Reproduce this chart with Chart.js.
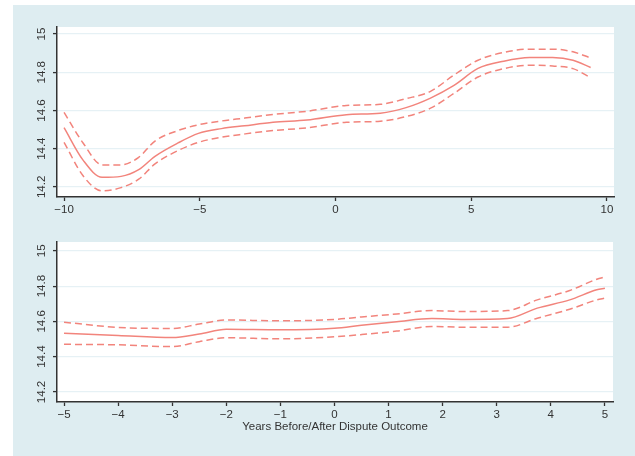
<!DOCTYPE html>
<html>
<head>
<meta charset="utf-8">
<script src="https://cdn.jsdelivr.net/npm/chart.js@4.4.1/dist/chart.umd.min.js"></script>
<style>
  html, body { margin: 0; padding: 0; background: #ffffff; }
  body { width: 635px; height: 456px; position: relative; overflow: hidden; }
  #bg { position: absolute; left: 13px; top: 5px; width: 622px; height: 451px; background: #deedf1; }
  .box { position: absolute; left: 13px; width: 622px; }
  #topBox { top: 5px; height: 222px; }
  #bottomBox { top: 227px; height: 214px; }
</style>
</head>
<body>
<div id="bg"></div>
<div class="box" id="topBox"><canvas id="topChart"></canvas></div>
<div class="box" id="bottomBox"><canvas id="bottomChart"></canvas></div>
<script>
// ---- data: top panel (-10 .. 10 years) ----
const topYears = [-10, -9.3, -8.6, -7.9, -7.25, -6.65, -5.8, -5.05, -4.2, -3.35, -2.3, -1.05, 0.4, 1.65, 2.6, 3.5, 4.35, 5.25, 6.2, 7.15, 8.0, 8.75, 9.4];
const topFit   = [14.51, 14.34, 14.25, 14.255, 14.29, 14.36, 14.43, 14.48, 14.505, 14.52, 14.538, 14.55, 14.578, 14.586, 14.615, 14.665, 14.73, 14.82, 14.858, 14.877, 14.877, 14.863, 14.825];
const topUpper = [14.59, 14.43, 14.315, 14.315, 14.355, 14.44, 14.495, 14.525, 14.545, 14.56, 14.579, 14.596, 14.626, 14.632, 14.662, 14.7, 14.784, 14.863, 14.904, 14.921, 14.921, 14.907, 14.875];
const topLower = [14.433, 14.258, 14.179, 14.196, 14.24, 14.32, 14.39, 14.433, 14.46, 14.477, 14.495, 14.509, 14.538, 14.544, 14.568, 14.612, 14.688, 14.775, 14.819, 14.837, 14.833, 14.819, 14.772];

// ---- data: bottom panel (-5 .. 5 years) ----
const bottomYears = [-5, -4, -3, -2.5, -2, -1, 0, 0.5, 1.15, 1.8, 2.4, 3.2, 3.75, 4.35, 4.85, 5];
const bottomFit   = [14.533, 14.52, 14.508, 14.528, 14.555, 14.552, 14.561, 14.578, 14.598, 14.616, 14.611, 14.616, 14.675, 14.722, 14.779, 14.788];
const bottomUpper = [14.595, 14.566, 14.56, 14.585, 14.608, 14.603, 14.611, 14.625, 14.642, 14.661, 14.656, 14.661, 14.722, 14.775, 14.839, 14.852];
const bottomLower = [14.47, 14.467, 14.457, 14.485, 14.507, 14.501, 14.513, 14.525, 14.545, 14.571, 14.567, 14.567, 14.618, 14.669, 14.722, 14.732];

// ---- tick labels ----
const topXTicks = [-10, -5, 0, 5, 10];
const bottomXTicks = [-5, -4, -3, -2, -1, 0, 1, 2, 3, 4, 5];
const yTicks = [14.2, 14.4, 14.6, 14.8, 15];
const xAxisTitle = 'Years Before/After Dispute Outcome';

const lineColor = '#f2847c';
const inkColor = '#333333';
const tickFont = { family: 'Liberation Sans, Arial, sans-serif', size: 11.5 };

// white plot region inside the blue graph region
const plotBackground = {
    id: 'plotBackground',
    beforeDraw(chart) {
        const { ctx, chartArea: { left, top, right, bottom } } = chart;
        ctx.save();
        ctx.fillStyle = '#ffffff';
        ctx.fillRect(left, top, right - left, bottom - top);
        ctx.restore();
    }
};

function toPoints(xs, ys) {
    return xs.map((x, i) => ({ x: x, y: ys[i] }));
}

function fmtX(v) {
    return v < 0 ? '\u2212' + Math.abs(v) : String(v);
}

function makePanel(canvasId, opts) {
    const band = (label, ys, dashed) => ({
        label: label,
        data: toPoints(opts.years, ys),
        borderColor: lineColor,
        borderWidth: 1.5,
        borderDash: dashed ? [7, 4] : [],
        pointRadius: 0,
        fill: false,
        cubicInterpolationMode: 'monotone'
    });

    return new Chart(document.getElementById(canvasId), {
        type: 'line',
        data: {
            datasets: [
                band('upper', opts.upper, true),
                band('fit', opts.fit, false),
                band('lower', opts.lower, true)
            ]
        },
        options: {
            responsive: true,
            maintainAspectRatio: false,
            animation: false,
            layout: { padding: { left: 0, top: opts.padTop, right: opts.padRight, bottom: 0 } },
            plugins: { legend: { display: false }, tooltip: { enabled: false } },
            scales: {
                x: {
                    type: 'linear',
                    min: opts.xMin,
                    max: opts.xMax,
                    afterBuildTicks: s => { s.ticks = opts.xTicks.map(v => ({ value: v })); },
                    afterFit: s => { s.height = opts.xHeight; },
                    ticks: { callback: v => fmtX(v), color: inkColor, font: tickFont, padding: 2, maxRotation: 0, autoSkip: false },
                    grid: { drawOnChartArea: false, tickLength: 4, tickColor: inkColor, tickWidth: 1.3 },
                    border: { color: inkColor, width: 1.5 },
                    title: {
                        display: !!opts.title,
                        text: opts.title || '',
                        color: inkColor,
                        font: { family: 'Liberation Sans, Arial, sans-serif', size: 11.5 },
                        padding: { top: 0, bottom: 7 }
                    }
                },
                y: {
                    type: 'linear',
                    min: opts.yMin,
                    max: opts.yMax,
                    afterBuildTicks: s => { s.ticks = yTicks.map(v => ({ value: v })); },
                    afterFit: s => { s.width = 44; },
                    ticks: {
                        callback: v => String(Number(v.toFixed(1))),
                        color: inkColor, font: tickFont,
                        minRotation: 90, maxRotation: 90,
                        crossAlign: 'center', padding: 0
                    },
                    grid: { color: '#e6f1f5', lineWidth: 1.2, tickLength: 4, tickColor: inkColor, tickWidth: 1.3 },
                    border: { color: inkColor, width: 1.5 }
                }
            }
        },
        plugins: [plotBackground]
    });
}

makePanel('topChart', {
    years: topYears, fit: topFit, upper: topUpper, lower: topLower,
    xMin: -10.26, xMax: 10.26, yMin: 14.147, yMax: 15.037,
    xTicks: topXTicks, xHeight: 30, padTop: 22, padRight: 21
});

makePanel('bottomChart', {
    years: bottomYears, fit: bottomFit, upper: bottomUpper, lower: bottomLower,
    xMin: -5.13, xMax: 5.15, yMin: 14.143, yMax: 15.05,
    xTicks: bottomXTicks, xHeight: 39, padTop: 15, padRight: 22,
    title: xAxisTitle
});
</script>
</body>
</html>
